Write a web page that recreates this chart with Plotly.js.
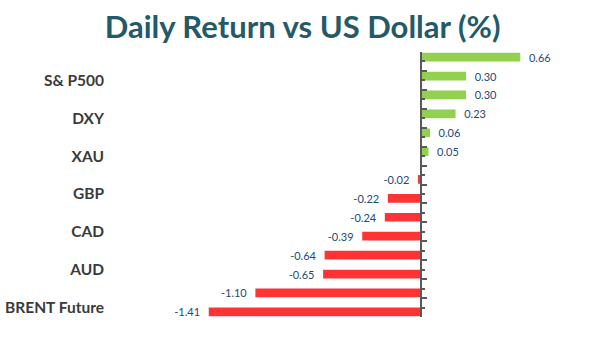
<!DOCTYPE html>
<html>
<head>
<meta charset="utf-8">
<script src="https://cdn.plot.ly/plotly-3.0.1.min.js"></script>
<style>html,body{margin:0;padding:0;background:#fff;}#chart{width:591px;height:339px;}</style>
</head>
<body>
<div id="chart"></div>
<script>
// Categories top-to-bottom (only every other one is labelled in the reference)
const categories = ["NASDAQ", "S& P500", "Dow Jones", "DXY", "CHF", "XAU", "EUR", "GBP", "JPY", "CAD", "NZD", "AUD", "WTI Future", "BRENT Future"];
const values = [0.66, 0.30, 0.30, 0.23, 0.06, 0.05, -0.02, -0.22, -0.24, -0.39, -0.64, -0.65, -1.10, -1.41];
const labelledCategories = ["S& P500", "DXY", "XAU", "GBP", "CAD", "AUD", "BRENT Future"];

const idx = categories.map((_, i) => i);
const posVals = values.map(v => v >= 0 ? v : null);
const negVals = values.map(v => v < 0 ? v : null);

const xRange = [-2.797, 1.13];
const zeroPos = (0 - xRange[0]) / (xRange[1] - xRange[0]);
const yRange = [categories.length - 0.5, -0.5];

const labelFont = {family: "Lato, 'Open Sans', sans-serif", size: 11, color: "#24487A"};

const traces = [
  {type: "bar", orientation: "h", x: posVals, y: idx, marker: {color: "#92D050"},
   texttemplate: "\u00a0\u00a0%{x:.2f}", textposition: "outside", textfont: labelFont,
   constraintext: "none", cliponaxis: false, hoverinfo: "skip"},
  {type: "bar", orientation: "h", x: negVals, y: idx, marker: {color: "#FF3333"},
   texttemplate: "%{x:.2f}\u00a0\u00a0", textposition: "outside", textfont: labelFont,
   constraintext: "none", cliponaxis: false, hoverinfo: "skip"},
  // invisible carrier trace so the label axis (y2) is drawn
  {type: "scatter", mode: "markers", x: idx.map(() => 0), y: idx, yaxis: "y2",
   marker: {opacity: 0, size: 1}, hoverinfo: "skip", showlegend: false}
];

const layout = {
  width: 591, height: 339,
  margin: {l: 0, r: 0, t: 52, b: 22},
  paper_bgcolor: "#fff", plot_bgcolor: "#fff",
  showlegend: false,
  barmode: "group", bargap: 0.08, bargroupgap: 0,
  title: {text: "<b>Daily Return vs US Dollar (%)</b>", x: 0.512, xanchor: "center", xref: "paper",
          y: 0.92, yref: "container", yanchor: "middle",
          font: {family: "Lato, 'Open Sans', sans-serif", size: 31, color: "#245A68"}},
  xaxis: {visible: false, range: xRange, fixedrange: true},
  yaxis: {range: yRange, anchor: "free", position: zeroPos, showgrid: false, zeroline: false,
          showline: true, linecolor: "#595959", linewidth: 2,
          tickmode: "linear", tick0: -0.5, dtick: 1, ticks: "inside", ticklen: 5, tickwidth: 2, tickcolor: "#595959",
          showticklabels: false,
          minor: {tickmode: "linear", tick0: 0, dtick: 1, ticks: "inside", ticklen: 3.5, tickwidth: 2, tickcolor: "#595959"}},
  yaxis2: {overlaying: "y", range: yRange, anchor: "free", position: 104 / 591, side: "left",
           showgrid: false, zeroline: false, showline: false, ticks: "",
           tickmode: "array",
           tickvals: labelledCategories.map(c => categories.indexOf(c)),
           ticktext: labelledCategories,
           tickfont: {family: "Lato, 'Open Sans', sans-serif", size: 15.5, color: "#3A3A3A", weight: "bold"}}
};

Plotly.newPlot("chart", traces, layout, {staticPlot: true, displayModeBar: false});
</script>
</body>
</html>
